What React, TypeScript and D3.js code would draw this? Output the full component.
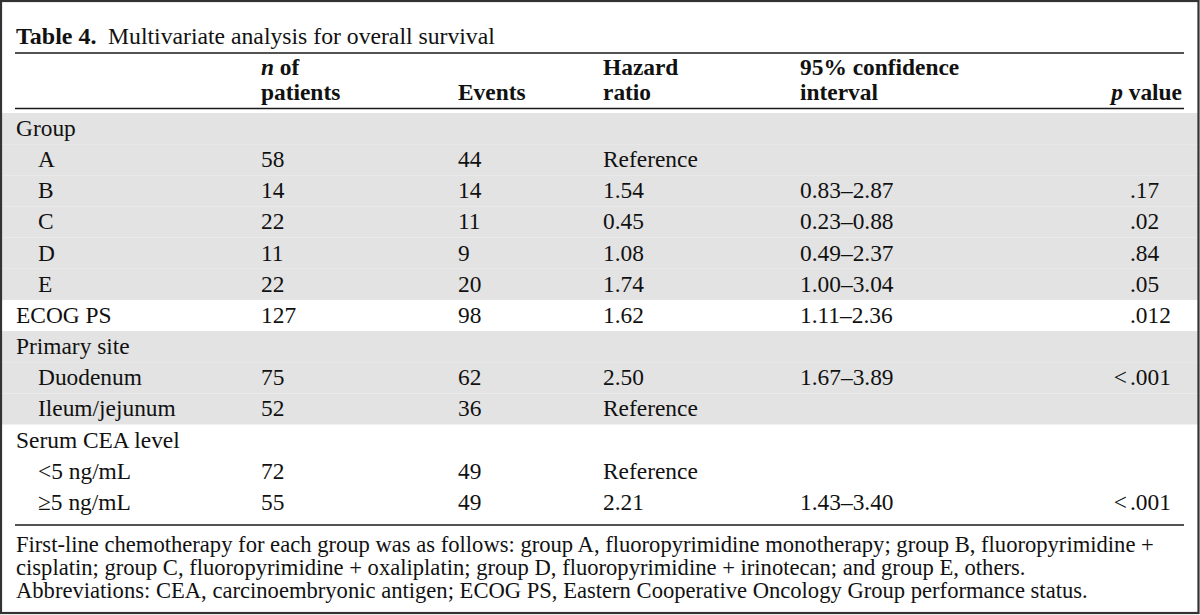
import React from "react";
import * as d3 from "d3";

const labels = ["Group", "A", "B", "C", "D", "E", "ECOG PS", "Primary site", "Duodenum", "Ileum/jejunum", "Serum CEA level", "<5 ng/mL", "≥5 ng/mL"];
const indent = [0, 1, 1, 1, 1, 1, 0, 0, 1, 1, 0, 1, 1];
const nPatients = ["", "58", "14", "22", "11", "22", "127", "", "75", "52", "", "72", "55"];
const events = ["", "44", "14", "11", "9", "20", "98", "", "62", "36", "", "49", "49"];
const hazard = ["", "Reference", "1.54", "0.45", "1.08", "1.74", "1.62", "", "2.50", "Reference", "", "Reference", "2.21"];
const ci = ["", "", "0.83–2.87", "0.23–0.88", "0.49–2.37", "1.00–3.04", "1.11–2.36", "", "1.67–3.89", "", "", "", "1.43–3.40"];
const pValues = ["", "", ".17", ".02", ".84", ".05", ".012", "", "<.001", "", "", "", "<.001"];
const shaded = [1, 1, 1, 1, 1, 1, 0, 1, 1, 1, 0, 0, 0];
const footnotes = [
  "First-line chemotherapy for each group was as follows: group A, fluoropyrimidine monotherapy; group B, fluoropyrimidine +",
  "cisplatin; group C, fluoropyrimidine + oxaliplatin; group D, fluoropyrimidine + irinotecan; and group E, others.",
  "Abbreviations: CEA, carcinoembryonic antigen; ECOG PS, Eastern Cooperative Oncology Group performance status.",
];

const W = 1200;
const H = 615;
const FONT = "'Liberation Serif', 'Times New Roman', serif";

export default function App() {
  const idx = d3.range(labels.length);
  const y = d3.scaleLinear().domain([0, labels.length]).range([113, 113 + 31.15 * labels.length]);
  const col = { label: 16, indentLabel: 38, n: 261, ev: 458, hr: 603, ci: 800, pDot: 1130, pRight: 1182 };
  const ruleX0 = 15;
  const ruleX1 = 1184;
  const fs = 23.4;
  const lineColor = "#1a1a1a";

  return (
    <svg width={W} height={H} style={{ position: "absolute", left: 0, top: 0, background: "#fff" }} fontFamily={FONT}>
      <rect x={0} y={0} width={W} height={H} fill="#fff" />
      {idx.map((i) =>
        shaded[i] ? (
          <rect key={"b" + i} x={2} y={y(i)} width={W - 4} height={y(i + 1) - y(i)} fill="#e3e3e3" />
        ) : null
      )}
      <text x={16} y={44} fontSize={24} fill="#111">
        <tspan fontWeight="bold">Table 4.</tspan>
      </text>
      <text x={108} y={44} fontSize={23.7} fill="#111">Multivariate analysis for overall survival</text>
      <line x1={ruleX0} x2={ruleX1} y1={53} y2={53} stroke={lineColor} strokeWidth={1.7} />
      <line x1={ruleX0} x2={ruleX1} y1={108.5} y2={108.5} stroke={lineColor} strokeWidth={1.7} />
      <line x1={ruleX0} x2={ruleX1} y1={525} y2={525} stroke={lineColor} strokeWidth={1.7} />
      <g fontSize={fs} fontWeight="bold" fill="#111">
        <text x={col.n} y={75}><tspan fontStyle="italic">n</tspan> of</text>
        <text x={col.n} y={100}>patients</text>
        <text x={col.ev} y={100}>Events</text>
        <text x={col.hr} y={75}>Hazard</text>
        <text x={col.hr} y={100}>ratio</text>
        <text x={col.ci} y={75}>95% confidence</text>
        <text x={col.ci} y={100}>interval</text>
        <text x={col.pRight} y={100} textAnchor="end"><tspan fontStyle="italic">p</tspan> value</text>
      </g>
      <g fontSize={fs} fill="#111">
        {idx.map((i) => {
          const by = y(i) + 23;
          const p = pValues[i];
          const lt = p.startsWith("<");
          return (
            <g key={"r" + i}>
              <text x={indent[i] ? col.indentLabel : col.label} y={by}>{labels[i]}</text>
              <text x={col.n} y={by}>{nPatients[i]}</text>
              <text x={col.ev} y={by}>{events[i]}</text>
              <text x={col.hr} y={by}>{hazard[i]}</text>
              <text x={col.ci} y={by}>{ci[i]}</text>
              {lt ? <text x={col.pDot - 3} y={by} textAnchor="end">&lt;</text> : null}
              <text x={col.pDot} y={by}>{lt ? p.slice(1) : p}</text>
            </g>
          );
        })}
      </g>
      <g fontSize={22.6} fill="#111">
        {footnotes.map((t, i) => (
          <text key={"f" + i} x={16} y={552 + i * 23}>{t}</text>
        ))}
      </g>
      <rect x={1} y={1} width={W - 2.5} height={H - 3} fill="none" stroke="#333" strokeWidth={2.2} />
    </svg>
  );
}
